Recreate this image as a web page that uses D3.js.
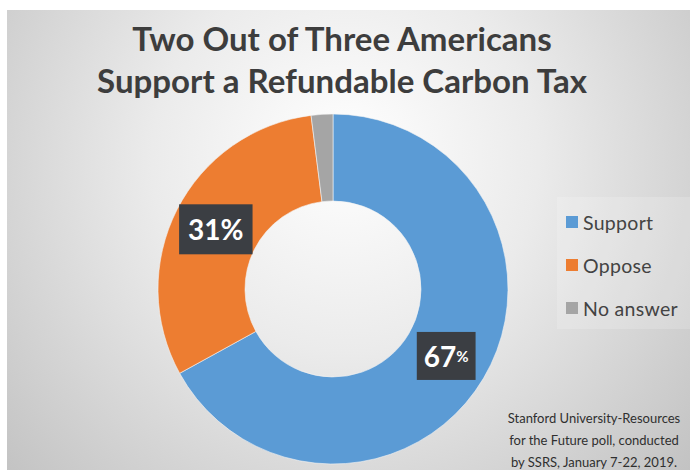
<!DOCTYPE html>
<html>
<head>
<meta charset="utf-8">
<script src="https://cdn.jsdelivr.net/npm/d3@7"></script>
<style>
  html, body { margin: 0; padding: 0; background: #ffffff; }
  svg { display: block; }
</style>
</head>
<body>
<svg id="chart" width="690" height="470"></svg>
<script>
// Poll result: share of respondents by answer
const categories = ["Support", "Oppose", "No answer"];
const shares = [67, 31, 2];
const titleLines = ["Two Out of Three Americans", "Support a Refundable Carbon Tax"];
const sourceLines = [
  "Stanford University-Resources",
  "for the Future poll, conducted",
  "by SSRS, January 7-22, 2019."
];

const W = 690, H = 470;
const svg = d3.select("#chart");
const defs = svg.append("defs");

// Slide-style background: soft light centre fading to grey edges
const bg = defs.append("radialGradient")
  .attr("id", "bgGrad")
  .attr("gradientUnits", "userSpaceOnUse")
  .attr("cx", 345).attr("cy", 170).attr("r", 460)
  .attr("fx", 345).attr("fy", 150);
bg.append("stop").attr("offset", "0%").attr("stop-color", "#ffffff");
bg.append("stop").attr("offset", "42%").attr("stop-color", "#ebebeb");
bg.append("stop").attr("offset", "100%").attr("stop-color", "#c2c2c2");

svg.append("rect").attr("x", 0).attr("y", 0).attr("width", W).attr("height", H).attr("fill", "#ffffff");
svg.append("rect").attr("x", 7).attr("y", 10).attr("width", W - 7).attr("height", H - 10)
  .attr("fill", "url(#bgGrad)");

// Title
const title = svg.append("g")
  .attr("font-family", "Lato, 'Open Sans', sans-serif")
  .attr("font-weight", 700)
  .attr("fill", "#3d3d3d")
  .attr("text-anchor", "middle");
const titleBase = [51, 93];
const titleTexts = title.selectAll("text").data(titleLines).join("text")
  .attr("x", 342)
  .attr("y", (d, i) => titleBase[i])
  .attr("font-size", 30)
  .text(d => d);
// fit the longer line to its intended width, same size for both lines
const longest = d3.max(titleTexts.nodes(), n => n.getComputedTextLength());
const titleSize = 30 * 490 / longest;
titleTexts.attr("font-size", titleSize);

// Doughnut
const cx = 333, cy = 289, rOuter = 175, rInner = 88;
const color = d3.scaleOrdinal().domain(categories).range(["#5B9BD5", "#ED7D31", "#A5A5A5"]);

const pie = d3.pie().sort(null).value(d => d.value);
const arcs = pie(categories.map((c, i) => ({ name: c, value: shares[i] })));
const arc = d3.arc().innerRadius(rInner).outerRadius(rOuter);

const donut = svg.append("g").attr("transform", `translate(${cx},${cy})`);
donut.selectAll("path").data(arcs).join("path")
  .attr("d", arc)
  .attr("fill", d => color(d.data.name))
  .attr("stroke", "#f4f4f4")
  .attr("stroke-width", 0.6);

// Data labels in dark boxes at each slice centroid
const smallPercent = new Set(["Support"]);
const labels = donut.selectAll("g.lbl").data(arcs.filter(d => d.data.value >= 5)).join("g")
  .attr("class", "lbl")
  .attr("transform", d => `translate(${arc.centroid(d)})`);

labels.each(function(d) {
  const g = d3.select(this);
  const box = g.append("rect").attr("fill", "#3b3e43");
  const t = g.append("text")
    .attr("font-family", "Lato, 'Open Sans', sans-serif")
    .attr("font-weight", 700)
    .attr("fill", "#ffffff")
    .attr("text-anchor", "middle")
    .attr("dominant-baseline", "central");
  t.append("tspan").attr("font-size", 28).text(d.data.value);
  t.append("tspan")
    .attr("font-size", smallPercent.has(d.data.name) ? 15 : 28)
    .text("%");
  const bb = t.node().getBBox();
  const padX = smallPercent.has(d.data.name) ? 7 : 9;
  const boxH = smallPercent.has(d.data.name) ? 48 : 50;
  box.attr("x", bb.x - padX).attr("y", -boxH / 2)
    .attr("width", bb.width + 2 * padX).attr("height", boxH);
});

// Legend
const legend = svg.append("g").attr("transform", "translate(566,222)");
legend.append("rect")
  .attr("x", -9).attr("y", -25).attr("width", 133).attr("height", 132)
  .attr("fill", "#ffffff").attr("opacity", 0.18);
const rows = legend.selectAll("g.row").data(categories).join("g")
  .attr("class", "row")
  .attr("transform", (d, i) => `translate(0,${i * 43})`);
rows.append("rect")
  .attr("x", 0).attr("y", -6).attr("width", 12).attr("height", 12)
  .attr("fill", d => color(d));
rows.append("text")
  .attr("x", 17).attr("y", 0)
  .attr("dominant-baseline", "central")
  .attr("font-family", "Lato, 'Open Sans', sans-serif")
  .attr("font-size", 19.5)
  .attr("letter-spacing", 0.3)
  .attr("fill", "#434343")
  .text(d => d);

// Source note
svg.append("g")
  .attr("font-family", "Lato, 'Open Sans', sans-serif")
  .attr("font-size", 13)
  .attr("fill", "#2f2f2f")
  .attr("text-anchor", "middle")
  .selectAll("text").data(sourceLines).join("text")
  .attr("x", 594)
  .attr("y", (d, i) => 418 + i * 22)
  .attr("dominant-baseline", "central")
  .text(d => d);
</script>
</body>
</html>
